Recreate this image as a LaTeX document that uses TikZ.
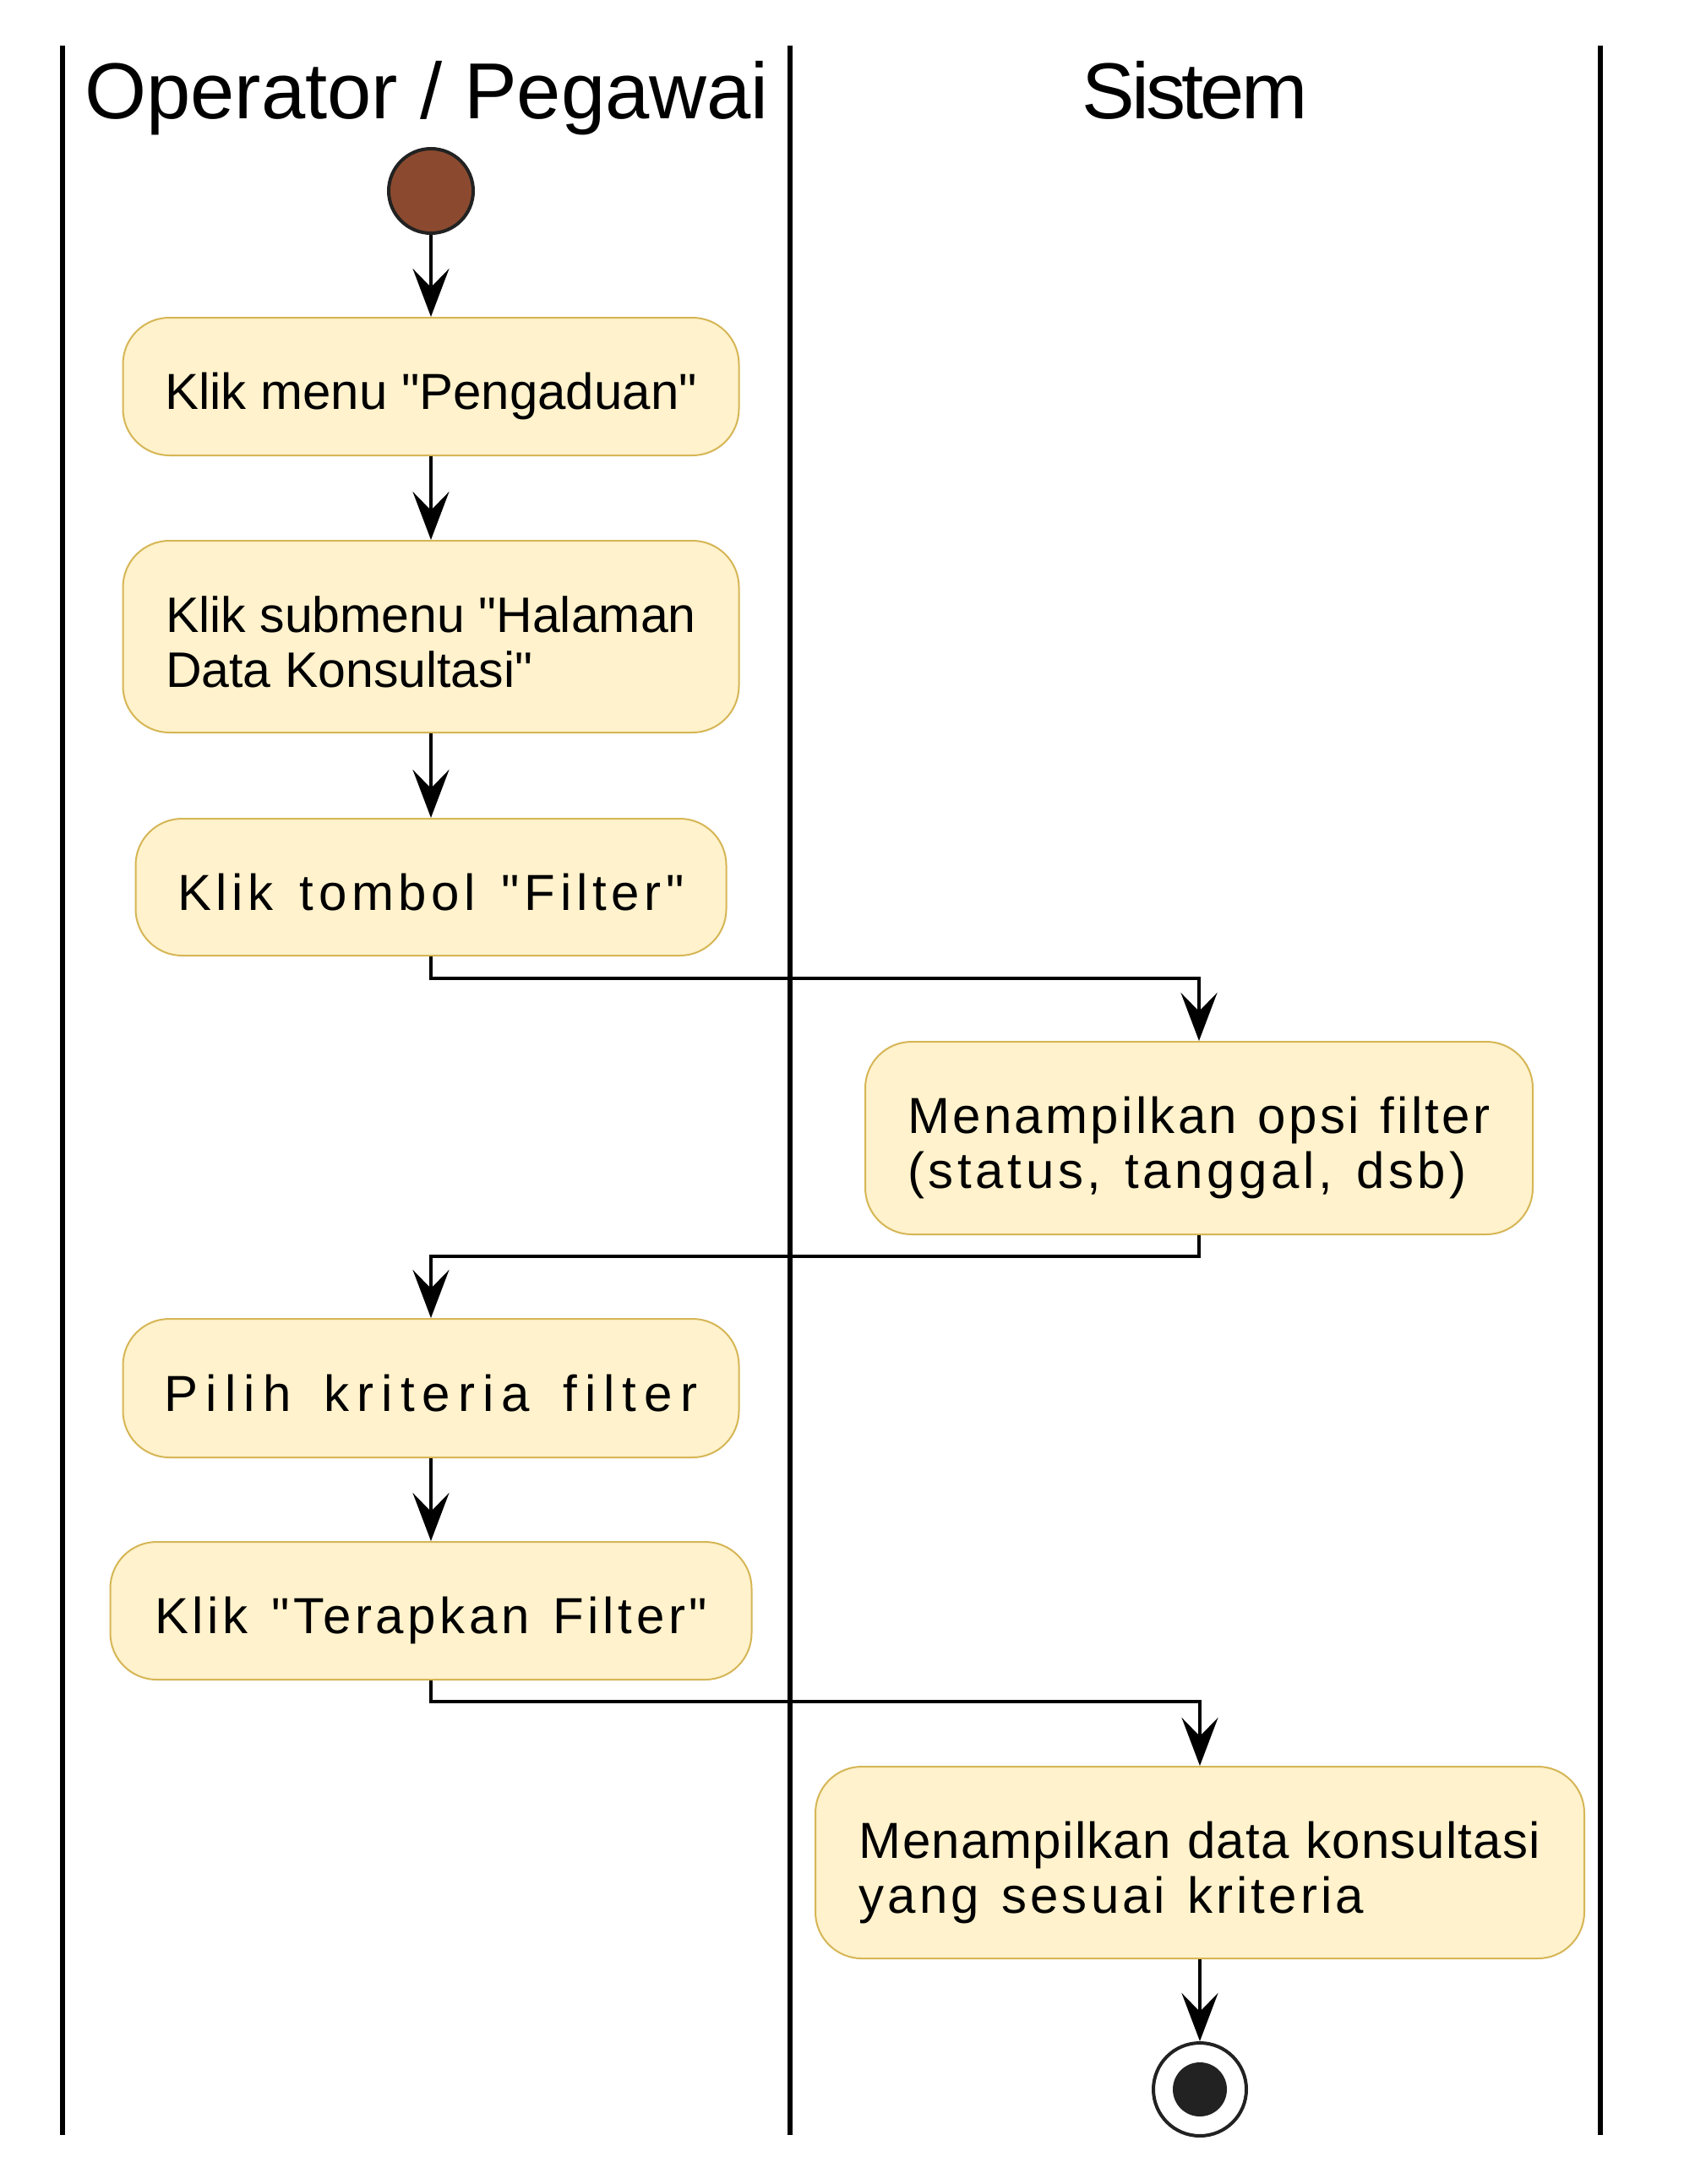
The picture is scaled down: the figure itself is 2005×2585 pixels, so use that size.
\documentclass[tikz,border=0pt]{standalone}
\usepackage{fontspec}
\setmainfont{Liberation Sans}[Ligatures=TeXOff]
\usetikzlibrary{arrows.meta}
\definecolor{boxfill}{HTML}{FFF2CC}
\definecolor{boxdraw}{HTML}{D6B656}
\definecolor{startfill}{HTML}{8B4A2F}
\definecolor{darkc}{HTML}{222222}
% letter-spaced text; interword spaces widened as well
\newcommand{\lsp}[2]{{\addfontfeatures{LetterSpace=#1}%
  \spaceskip=\dimexpr\fontdimen2\font+#1\dimexpr0.0145em\relax\relax #2}}
\newcommand{\tstr}{\rule{0pt}{70pt}}
\newcommand{\bstr}{\rule[-16pt]{0pt}{16pt}}
\begin{document}
\begin{tikzpicture}[x=1pt,y=-1pt,
  act/.style={draw=boxdraw, fill=boxfill, line width=2pt, rounded corners=55pt,
    inner sep=0pt, align=left, font=\fontsize{60}{65}\selectfont},
  flow/.style={line width=3.8pt, -{Stealth[length=57pt,width=43pt,inset=22pt]}},
  lane/.style={line width=6.5pt},
  hdr/.style={font=\fontsize{94}{100}\selectfont, anchor=base, inner sep=0pt}
]
\useasboundingbox (0,0) rectangle (2005,2585);
\fill[white] (0,0) rectangle (2005,2585);

% swimlanes
\draw[lane] (74,54) -- (74,2527);
\draw[lane] (935,54) -- (935,2527);
\draw[lane] (1894,54) -- (1894,2527);
\node[hdr] (h1) at (505,140) {Operator / Pegawai};
\node[hdr] (h2) at (1414,140) {\lsp{-4.4}{Sistem}};

% nodes
\node[circle, fill=startfill, draw=darkc, line width=4pt, minimum size=100pt, inner sep=0pt] (start) at (510,226) {};
\node[act, minimum height=163pt, minimum width=729pt] (b1) at (510,457.5) {\tstr Klik menu "Pengaduan"\bstr};
\node[act, minimum height=227pt, minimum width=729pt, font=\fontsize{59}{65}\selectfont] (b2) at (510,753.5) {\tstr Klik submenu "Halaman\\Data Konsultasi"\bstr};
\node[act, minimum height=162pt, minimum width=699pt] (b3) at (510,1050) {\tstr\lsp{9.5}{Klik tombol "Filter"}\bstr};
\node[act, minimum height=228pt, minimum width=790pt] (b4) at (1419,1347) {\tstr\lsp{5.5}{Menampilkan opsi filter}\\\lsp{7.7}{(status, tanggal, dsb)}\bstr};
\node[act, minimum height=164pt, minimum width=729pt] (b5) at (510,1643) {\tstr\lsp{15.2}{Pilih kriteria filter}\bstr};
\node[act, minimum height=163pt, minimum width=759pt] (b6) at (510,1906.5) {\tstr\lsp{7.7}{Klik "Terapkan Filter"}\bstr};
\node[act, minimum height=227pt, minimum width=910pt] (b7) at (1420,2204.5) {\tstr\lsp{2}{Menampilkan data konsultasi}\\\lsp{6.7}{yang sesuai kriteria}\bstr};
\node[circle, draw=darkc, fill=white, line width=4pt, minimum size=110pt, inner sep=0pt] (end) at (1420,2473) {};
\node[circle, fill=darkc, minimum size=64pt, inner sep=0pt] (endin) at (end.center) {};

% connectors
\draw[flow] (start) -- (b1);
\draw[flow] (b1) -- (b2);
\draw[flow] (b2) -- (b3);
\draw[flow] (b3.south) -- ++(0,26) -| (b4.north);
\draw[flow] (b4.south) -- ++(0,25) -| (b5.north);
\draw[flow] (b5) -- (b6);
\draw[flow] (b6.south) -- ++(0,25) -| (b7.north);
\draw[flow] (b7) -- (end);
\end{tikzpicture}
\end{document}
